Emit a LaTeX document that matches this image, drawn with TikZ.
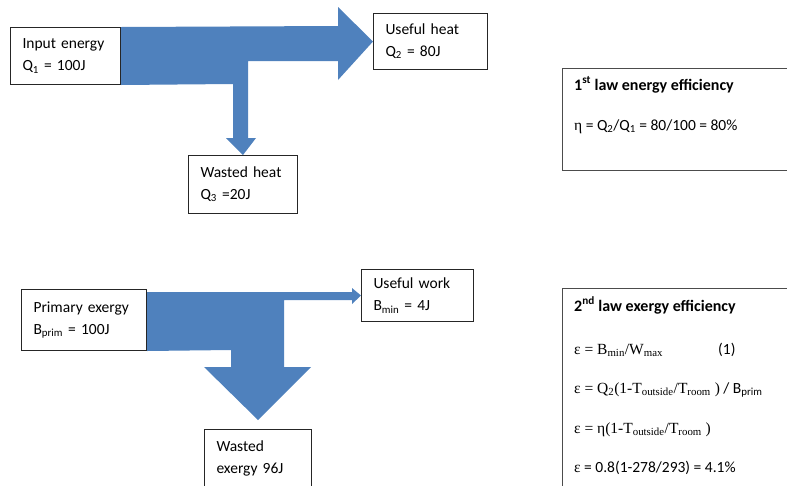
\documentclass[tikz,border=0pt]{standalone}
\usepackage{fontspec}
\setmainfont{Carlito}
\newfontfamily\tms{Liberation Serif}
\usepackage{xcolor}
\usetikzlibrary{positioning,calc}
\definecolor{flowblue}{RGB}{79,129,189}
\newcommand{\boxfont}{\fontsize{15.5}{22}\selectfont}
\tikzset{%
  % boxes
  box/.style={draw=black!85, line width=1pt, anchor=north west, align=left,
    inner xsep=12pt, inner ysep=0pt, font=\boxfont},
  effbox/.style={draw=black!70, line width=1.2pt, anchor=north west, inner sep=0pt},
  textline/.style={anchor=base west, inner sep=0pt, font=\boxfont},
  % block arrows
  flowarrow/.style={fill=flowblue},
}
\begin{document}
\begin{tikzpicture}[x=1pt, y=-1pt]
  \clip (0,0) rectangle (787,485);

  % Energy (first law)
  \node[box, text width=86pt, minimum width=110pt, minimum height=57pt] (input) at (10,27)
    {Input energy\\Q\textsubscript{1} = 100J};
  \node[box, text width=90pt, minimum width=114pt, minimum height=56pt] (useful) at (373,13)
    {Useful heat\\Q\textsubscript{2} = 80J};
  \node[box, text width=85pt, minimum width=109pt, minimum height=58pt] (wasted) at (188,155)
    {Wasted heat\\Q\textsubscript{3} =20J};

  \fill[flowarrow] (input.north east) -- (338,26) -- (338,7) -- (useful.west)
    -- (338,80) -- (338,61) -- (248,61) -- (248,138) -- (256,138) -- (wasted.north)
    -- (226,138) -- (233,138) -- (233,84) -- (input.south east) -- cycle;

  % Exergy (second law)
  \node[box, text width=101pt, minimum width=125pt, minimum height=61pt] (primary) at (21,289)
    {Primary exergy\\B\textsubscript{prim} = 100J};
  \node[box, text width=88pt, minimum width=112pt, minimum height=52pt] (work) at (361,269)
    {Useful work\\B\textsubscript{min} = 4J};
  \node[box, text width=83pt, minimum width=107pt, minimum height=58pt] (wexergy) at (204,429)
    {Wasted\\exergy 96J};

  \fill[flowarrow] ($(primary.north east)+(0,3)$) -- (352,292) -- (352,288) -- (work.west)
    -- (352,304) -- (352,300) -- (284,300) -- (284,367) -- (311,367)
    -- ($(wexergy.north)+(0,-9)$) -- (204,367) -- (231,367) -- (231,350)
    -- (primary.south east) -- cycle;

  % Efficiency boxes
  \node[effbox, minimum width=260pt, minimum height=102pt] (eff1) at (562,68) {};
  \node[textline, font=\fontsize{16}{22}\selectfont\bfseries] (eff1title) at (574,90)
    {1\textsuperscript{st} law energy efficiency};
  \node[textline] (eff1eta) at (574,130)
    {{\tms η} = Q\textsubscript{2}/Q\textsubscript{1} = 80/100 = 80\%};

  \node[effbox, minimum width=260pt, minimum height=230pt] (eff2) at (562,288) {};
  \node[textline, font=\fontsize{16}{22}\selectfont\bfseries] (eff2title) at (574,311)
    {2\textsuperscript{nd} law exergy efficiency};
  \node[textline] (eff2a) at (574,354)
    {\tms ε = B\textsubscript{min}/W\textsubscript{max}};
  \node[textline] (eff2num) at (718,354) {(1)};
  \node[textline] (eff2b) at (574,393)
    {{\tms ε = Q\textsubscript{2}(1-T\textsubscript{outside}/T\textsubscript{room} )} / B\textsubscript{prim}};
  \node[textline] (eff2c) at (574,433)
    {\tms ε = η(1-T\textsubscript{outside}/T\textsubscript{room} )};
  \node[textline] (eff2d) at (574,472)
    {{\tms ε} = 0.8(1-278/293) = 4.1\%};
\end{tikzpicture}
\end{document}
